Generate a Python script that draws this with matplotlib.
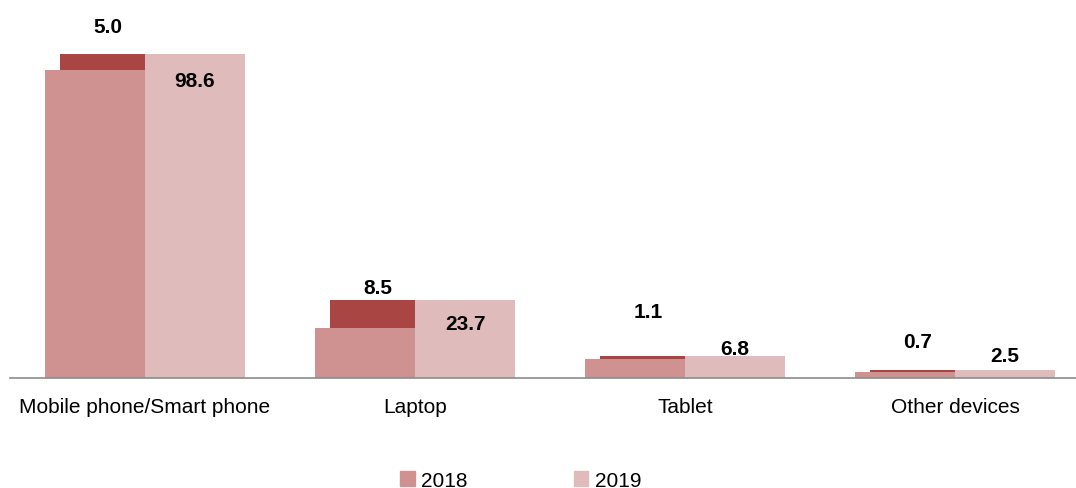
import matplotlib.pyplot as plt
import numpy as np
from matplotlib.patches import Patch

plt.rcParams['font.family'] = ['Liberation Sans', 'DejaVu Sans']

categories = ['Mobile phone/Smart phone', 'Laptop', 'Tablet', 'Other devices']
values_2018 = [93.6, 15.2, 5.7, 1.8]
values_2019 = [98.6, 23.7, 6.8, 2.5]
growth = [5.0, 8.5, 1.1, 0.7]

# label offsets in data units (as positioned in the original)
growth_label_dy = [8.5, 3.7, 13.3, 8.5]
value_label_dy = [-8.2, -7.0, 2.2, 4.3]

c2018 = '#D09191'
c2019 = '#E0BBBB'
cgrowth = '#A94644'

fig = plt.figure(figsize=(10.76, 4.89), dpi=100)
ax = fig.add_axes([10 / 1076, 0.225, 1 - 10 / 1076, 0.739])

x = np.arange(len(categories))
w = 100 / 270
inset = 15 / 270

ax.bar(x - w / 2, values_2018, width=w, color=c2018, label='2018')
ax.bar(x + w / 2, values_2019, width=w, color=c2019, label='2019')
# growth segment sitting on top of the 2018 bar
ax.bar(x - w / 2 + inset / 2, growth, width=w - inset, bottom=values_2018, color=cgrowth)

for i in range(len(categories)):
    ax.text(x[i] - w / 2 + inset / 2 + 0.02, values_2019[i] + growth_label_dy[i], f'{growth[i]:.1f}',
            ha='center', va='center', fontsize=15, fontweight='bold')
    ax.text(x[i] + w / 2, values_2019[i] + value_label_dy[i], f'{values_2019[i]:.1f}',
            ha='center', va='center', fontsize=15, fontweight='bold')

ax.set_xlim(-0.5, 3.448)
ax.set_ylim(0, 110)
ax.set_xticks(x)
ax.set_xticklabels(categories, fontsize=15)
ax.tick_params(axis='x', length=0, pad=14)
ax.set_yticks([])
for s in ['top', 'right', 'left']:
    ax.spines[s].set_visible(False)
ax.spines['bottom'].set_color('#8C8C8C')
ax.spines['bottom'].set_linewidth(1.2)

handles = [Patch(color=c2018, label='2018'), Patch(color=c2019, label='2019')]
fig.legend(handles=handles, loc='center', bbox_to_anchor=(0.484, 0.016), ncol=2, frameon=False,
           fontsize=15, handlelength=0.7, handleheight=0.7, handletextpad=0.3, columnspacing=5.1)

fig.savefig('out.png', dpi=100)
